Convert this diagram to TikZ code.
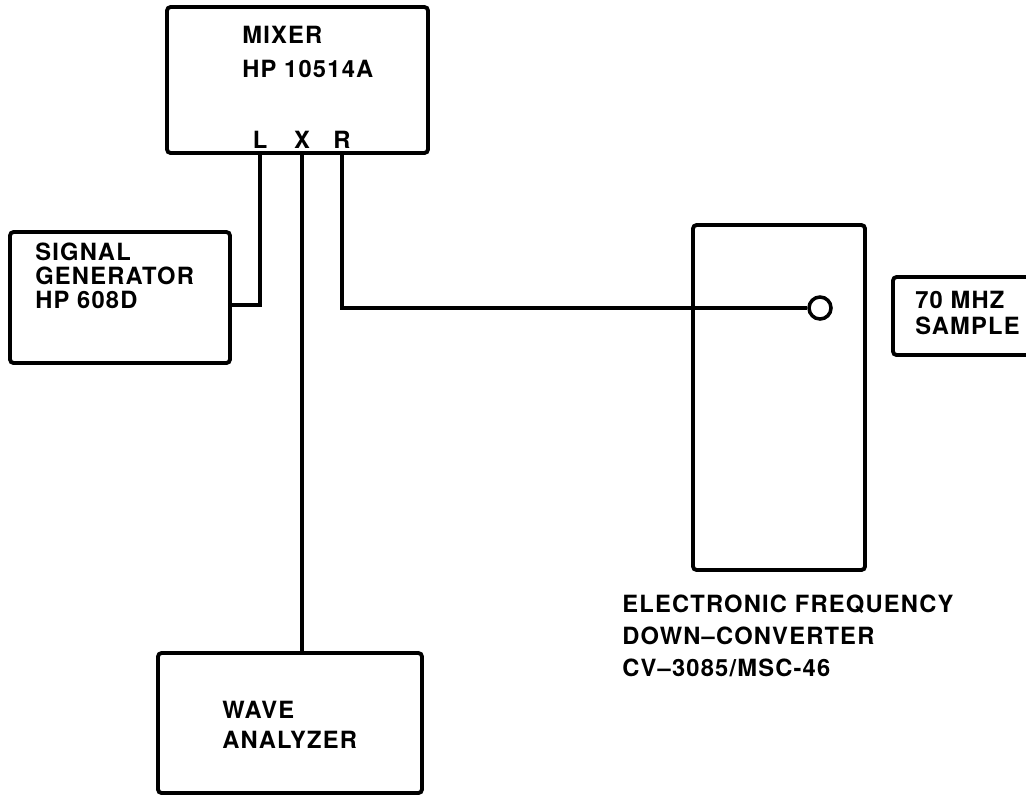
\documentclass[tikz,border=0pt]{standalone}
\usepackage{fontspec}
\setmainfont{TeX Gyre Heros}[LetterSpace=5]
\usepackage{tikz}
\usetikzlibrary{positioning}
\tikzset{
  hwbox/.style={
    draw=black,
    line width=2.2pt,
    rounded corners=2pt,
    inner sep=0pt
  },
  lbl/.style={
    font=\fontsize{13.5}{13.6}\selectfont\bfseries,
    align=left,
    anchor=west,
    inner sep=0pt
  },
  portlbl/.style={
    font=\fontsize{13.5}{13.6}\selectfont\bfseries,
    inner sep=0pt
  },
  wire/.style={
    draw=black,
    line width=1.8pt
  }
}

\begin{document}
\begin{tikzpicture}[x=0.02cm, y=-0.02cm]
    \useasboundingbox (0,0) rectangle (1026,806);

    % boxes
    \node[hwbox, minimum width=5.22cm, minimum height=2.92cm] (mixer) at (297.5,80) {};
    \node[hwbox, minimum width=4.4cm, minimum height=2.62cm] (siggen) at (120,297.5) {};
    \node[hwbox, minimum width=3.44cm, minimum height=6.9cm] (conv) at (779,397.5) {};
    \node[hwbox, minimum width=3.04cm, minimum height=1.56cm] (sample) at (969,316) {};
    \node[hwbox, minimum width=5.28cm, minimum height=2.8cm] (analyzer) at (290,723) {};
    \node[draw=black, line width=2pt, circle, minimum size=0.44cm, inner sep=0pt] (port) at (820,308) {};

    % labels
    \node[lbl] (mixertxt) at (242,52) {MIXER\\[6pt]HP 10514A};
    \node[portlbl] (L) at (260,140) {L};
    \node[portlbl] (X) at (302,140) {X};
    \node[portlbl] (R) at (342,140) {R};
    \node[lbl] (siggentxt) at (35,276) {SIGNAL\\GENERATOR\\HP 608D};
    \node[lbl] (convtxt) at (622,636) {ELECTRONIC FREQUENCY\\[4.5pt]DOWN--CONVERTER\\[4.5pt]CV--3085/MSC-46};
    \node[lbl] (sampletxt) at (915,313) {70 MHZ\\[1.7pt]SAMPLE};
    \node[lbl] (analyzertxt) at (222,725) {WAVE\\[3.4pt]ANALYZER};

    % connections
    \draw[wire] (mixer.south -| L) |- ([yshift=-0.15cm]siggen.east);
    \draw[wire] (mixer.south -| X) -- (analyzer.north -| X);
    \draw[wire] (mixer.south -| R) |- (port.west);
\end{tikzpicture}
\end{document}
